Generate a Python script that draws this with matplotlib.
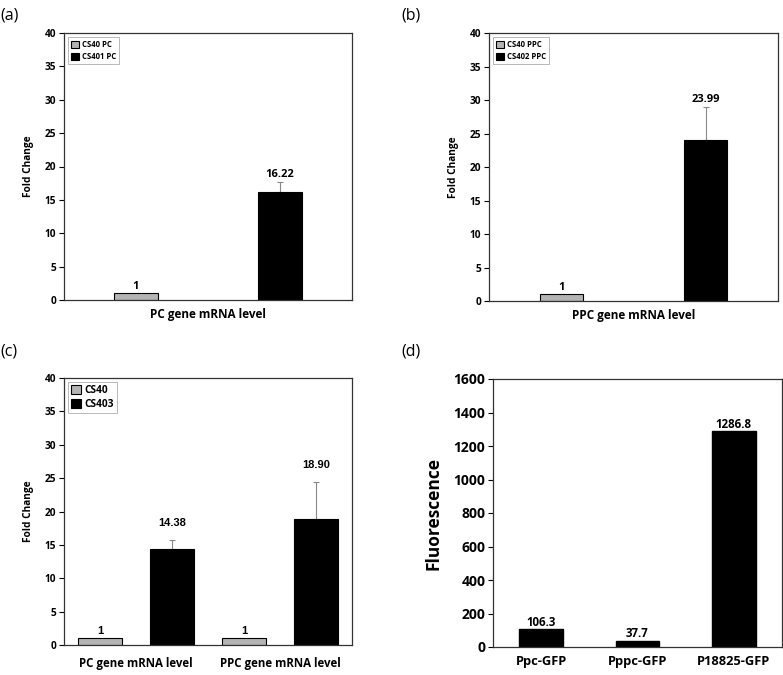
import matplotlib
matplotlib.use("Agg")
import matplotlib.pyplot as plt
import numpy as np

plt.rcParams['font.family'] = ['Open Sans', 'DejaVu Sans']

# ---- data ----
a_series = ["CS40 PC", "CS401 PC"]
a_values = [1, 16.22]
a_err = [0, 1.5]
a_xlabel = "PC gene mRNA level"

b_series = ["CS40 PPC", "CS402 PPC"]
b_values = [1, 23.99]
b_err = [0, 5.0]
b_xlabel = "PPC gene mRNA level"

c_groups = ["PC gene mRNA level", "PPC gene mRNA level"]
c_series = ["CS40", "CS403"]
c_ctrl = [1, 1]
c_values = [14.38, 18.90]
c_err = [1.3, 5.5]
c_labels_ctrl = ["1", "1"]
c_labels = ["14.38", "18.90"]

d_categories = ["Ppc-GFP", "Pppc-GFP", "P18825-GFP"]
d_values = [106.3, 37.7, 1286.8]

GRAY = "#b4b4b4"
BLACK = "#000000"
W, H = 783, 675

fig = plt.figure(figsize=(W / 100, H / 100), dpi=100)


def ax_px(l, r, t, b):
    return fig.add_axes([l / W, (H - b) / H, (r - l) / W, (b - t) / H])


def style(ax, tick_size=7.3):
    for s in ax.spines.values():
        s.set_linewidth(0.9)
        s.set_color("#333333")
    ax.tick_params(axis='y', direction='out', length=3.5, width=0.8,
                   labelsize=tick_size, pad=2)
    for lab in ax.get_yticklabels():
        lab.set_fontweight('bold')


def two_bar_panel(ax, series, values, err, xlabel, labels):
    x = np.arange(len(values))
    cols = [GRAY, BLACK]
    for i in range(len(values)):
        ax.bar(x[i], values[i], width=0.3, color=cols[i], edgecolor='black',
               linewidth=0.8, label=series[i], zorder=2)
        if err[i] > 0:
            ax.errorbar(x[i], values[i], yerr=[[0], [err[i]]], fmt='none',
                        ecolor='#888888', elinewidth=0.8, capsize=2.5,
                        capthick=0.8, zorder=1)
        ax.annotate(labels[i], (x[i], values[i] + err[i]), xytext=(0, 1.0),
                    textcoords='offset points', ha='center', va='bottom',
                    fontsize=8, fontweight='bold')
    ax.set_xlim(-0.5, 1.5)
    ax.set_ylim(0, 40)
    ax.set_yticks(np.arange(0, 41, 5))
    ax.set_xticks([])
    ax.set_ylabel("Fold Change", fontsize=7.3, fontweight='bold', labelpad=8)
    ax.set_xlabel(xlabel, fontsize=8.5, fontweight='bold', labelpad=6)
    style(ax)
    leg = ax.legend(loc='upper left', prop={'weight': 'bold', 'size': 5.6},
                    handlelength=1.0, handleheight=1.0, handletextpad=0.4,
                    borderpad=0.4, labelspacing=0.35, frameon=True, fancybox=False,
                    borderaxespad=0.5)
    leg.get_frame().set_edgecolor('#999999')
    leg.get_frame().set_linewidth(0.6)


# (a)
axa = ax_px(64, 352, 33, 300)
two_bar_panel(axa, a_series, a_values, a_err, a_xlabel, ["1", "16.22"])
# (b)
axb = ax_px(489, 778, 33, 301)
two_bar_panel(axb, b_series, b_values, b_err, b_xlabel, ["1", "23.99"])

# (c)
axc = ax_px(64, 352, 378, 645)
xg = np.arange(len(c_groups))
off = 0.25
bw = 0.3
axc.bar(xg - off, c_ctrl, width=bw, color=GRAY, edgecolor='black', linewidth=0.8,
        label=c_series[0], zorder=2)
axc.bar(xg + off, c_values, width=bw, color=BLACK, edgecolor='black', linewidth=0.8,
        label=c_series[1], zorder=2)
axc.errorbar(xg + off, c_values, yerr=[np.zeros(len(c_err)), c_err], fmt='none',
             ecolor='#888888', elinewidth=0.8, capsize=2.5, capthick=0.8, zorder=1)
for i in range(len(xg)):
    axc.annotate(c_labels_ctrl[i], (xg[i] - off, c_ctrl[i]), xytext=(0, 1.5),
                 textcoords='offset points', ha='center', va='bottom',
                 fontsize=8, fontweight='bold', family='Liberation Sans')
    axc.annotate(c_labels[i], (xg[i] + off, c_values[i] + c_err[i]), xytext=(0, 9),
                 textcoords='offset points', ha='center', va='bottom',
                 fontsize=8, fontweight='bold', family='Liberation Sans')
axc.set_xlim(-0.5, 1.5)
axc.set_ylim(0, 40)
axc.set_yticks(np.arange(0, 41, 5))
axc.set_xticks(xg)
axc.set_xticklabels(c_groups, fontsize=8.3, fontweight='bold')
axc.tick_params(axis='x', length=0, pad=9)
axc.set_ylabel("Fold Change", fontsize=7.3, fontweight='bold', labelpad=8)
style(axc)
legc = axc.legend(loc='upper left', prop={'weight': 'bold', 'size': 7.3},
                  handlelength=1.0, handleheight=1.0, handletextpad=0.3,
                  borderpad=0.3, labelspacing=0.3, frameon=True, fancybox=False,
                  borderaxespad=0.4)
legc.get_frame().set_edgecolor('#999999')
legc.get_frame().set_linewidth(0.6)

# (d)
axd = ax_px(493, 782, 379, 647)
xd = np.arange(len(d_categories))
axd.bar(xd, d_values, width=0.45, color=BLACK, edgecolor='black', zorder=2)
for i in range(len(xd)):
    axd.annotate(f"{d_values[i]:.1f}", (xd[i], d_values[i]), xytext=(0, 0.5),
                 textcoords='offset points', ha='center', va='bottom',
                 fontsize=8.3, fontweight='bold')
axd.set_xlim(-0.5, 2.5)
axd.set_ylim(0, 1600)
axd.set_yticks(np.arange(0, 1601, 200))
axd.set_xticks(xd)
axd.set_xticklabels(d_categories, fontsize=9.3, fontweight='bold')
axd.tick_params(axis='x', length=0, pad=6)
axd.set_ylabel("Fluorescence", fontsize=12.5, fontweight='bold', labelpad=8)
style(axd, tick_size=10)

# panel letters
fig.text(0 / W, 1 - 16 / H, "(a)", fontsize=11.5, va='center', ha='left')
fig.text(401 / W, 1 - 16 / H, "(b)", fontsize=11.5, va='center', ha='left')
fig.text(0 / W, 1 - 352 / H, "(c)", fontsize=11.5, va='center', ha='left')
fig.text(401 / W, 1 - 352 / H, "(d)", fontsize=11.5, va='center', ha='left')

fig.savefig("out.png", dpi=100, facecolor='white')
